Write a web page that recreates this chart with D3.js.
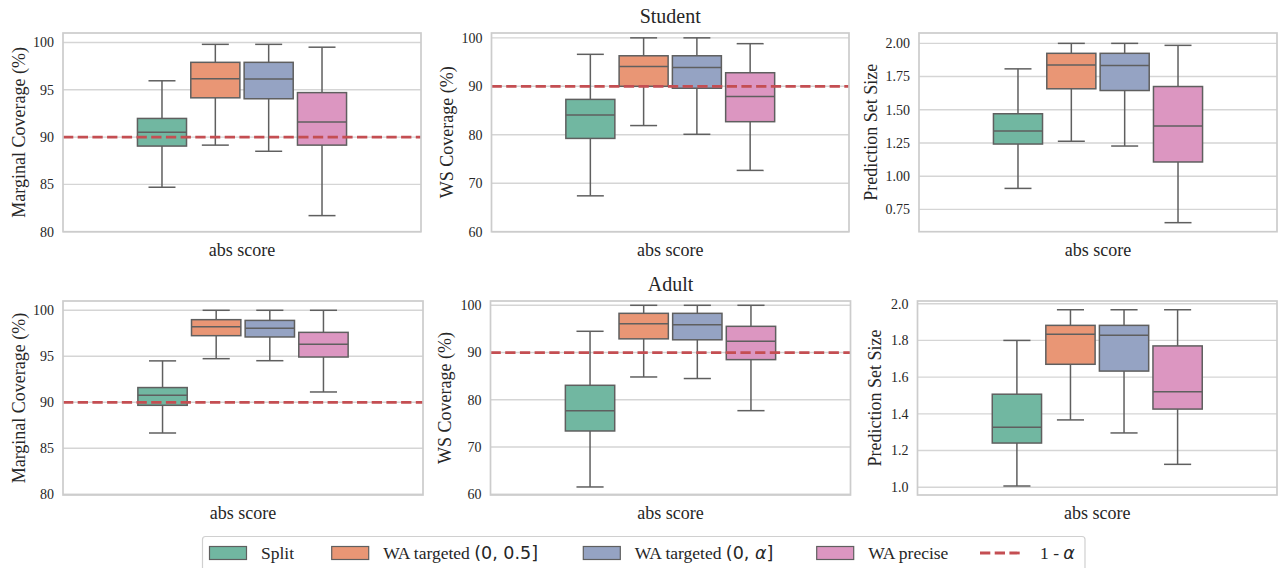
<!DOCTYPE html>
<html>
<head>
<meta charset="utf-8">
<script src="https://cdn.jsdelivr.net/npm/d3@7"></script>
<style>
  body { margin: 0; background: #fff; }
  svg { display: block; font-family: "Liberation Serif", "Times New Roman", serif; }
</style>
</head>
<body>
<svg id="chart" width="1278" height="568"></svg>
<script>
// methods shown in every panel (one box each)
const methods = ["Split", "WA targeted (0, 0.5]", "WA targeted (0, α]", "WA precise"];
const colors = ["#71b7a1", "#e99675", "#95a3c3", "#dc96c1"];
const xCategory = "abs score";
const target = 90; // 1 - alpha line, only on coverage panels

// box stats per method: [lower whisker, q1, median, q3, upper whisker]
const studentMarginal = [[84.7, 89.05, 90.5, 91.97, 95.95], [89.15, 94.15, 96.16, 97.9, 99.8], [88.5, 94.05, 96.15, 97.9, 99.8], [81.7, 89.15, 91.6, 94.7, 99.5]];
const studentWS = [[67.4, 79.25, 84.1, 87.3, 96.6], [81.9, 90.0, 94.1, 96.3, 100], [80.1, 89.6, 93.9, 96.3, 100], [72.65, 82.7, 87.9, 92.8, 98.8]];
const studentSize = [[0.908, 1.242, 1.34, 1.47, 1.808], [1.263, 1.658, 1.838, 1.925, 2.0], [1.227, 1.645, 1.833, 1.925, 2.0], [0.65, 1.107, 1.377, 1.675, 1.985]];
const adultMarginal = [[86.66, 89.67, 90.76, 91.6, 94.5], [94.74, 97.24, 98.22, 98.98, 100], [94.52, 97.1, 98.04, 98.9, 100], [91.12, 94.92, 96.3, 97.6, 100]];
const adultWS = [[61.55, 73.4, 77.7, 83.07, 94.5], [84.83, 92.9, 96.1, 98.3, 100], [84.5, 92.7, 95.9, 98.3, 100], [77.7, 88.5, 92.4, 95.55, 100]];
const adultSize = [[1.007, 1.241, 1.327, 1.507, 1.8], [1.367, 1.67, 1.833, 1.882, 1.967], [1.296, 1.633, 1.828, 1.882, 1.967], [1.125, 1.426, 1.521, 1.77, 1.967]];

// tick labels
const marginalTicks = [80, 85, 90, 95, 100];
const wsTicks = [60, 70, 80, 90, 100];
const studentSizeTicks = [0.75, 1.00, 1.25, 1.50, 1.75, 2.00];
const adultSizeTicks = [1.0, 1.2, 1.4, 1.6, 1.8, 2.0];

const rowTitles = ["Student", "Adult"];

const svg = d3.select("#chart");
const textColor = "#262626";
const gridColor = "#d5d5d5";
const lineColor = "#5f5f5f";
const red = "#c44e52";

const panels = [
  { stats: studentMarginal, ticks: marginalTicks, fmt: d3.format("d"), domain: [80, 101], x: [63, 421], y: [33, 231.7], label: "Marginal Coverage (%)", lx: 19, line: true },
  { stats: studentWS, ticks: wsTicks, fmt: d3.format("d"), domain: [60, 101], x: [491.5, 849], y: [33, 231.7], label: "WS Coverage (%)", lx: 446.5, line: true, title: rowTitles[0] },
  { stats: studentSize, ticks: studentSizeTicks, fmt: d3.format(".2f"), domain: [0.582, 2.078], x: [919, 1277], y: [33, 231.7], label: "Prediction Set Size", lx: 871, line: false },
  { stats: adultMarginal, ticks: marginalTicks, fmt: d3.format("d"), domain: [79.92, 101.01], x: [63, 423], y: [301, 495], label: "Marginal Coverage (%)", lx: 19, line: true },
  { stats: adultWS, ticks: wsTicks, fmt: d3.format("d"), domain: [59.85, 100.91], x: [490.5, 850.5], y: [301, 495], label: "WS Coverage (%)", lx: 445, line: true, title: rowTitles[1] },
  { stats: adultSize, ticks: adultSizeTicks, fmt: d3.format(".1f"), domain: [0.958, 2.0147], x: [917.5, 1277], y: [301, 495], label: "Prediction Set Size", lx: 875, line: false }
];

panels.forEach(function (p) {
  const w = p.x[1] - p.x[0];
  const cx = (p.x[0] + p.x[1]) / 2;
  const y = d3.scaleLinear().domain(p.domain).range([p.y[1], p.y[0]]);
  const xb = d3.scaleBand().domain(methods)
    .range([cx - 0.298 * w, cx + 0.298 * w])
    .paddingInner(0.08).paddingOuter(0.04);
  const bw = xb.bandwidth();
  const g = svg.append("g");

  // horizontal grid
  g.selectAll(".grid").data(p.ticks).enter().append("line")
    .attr("x1", p.x[0]).attr("x2", p.x[1])
    .attr("y1", d => y(d)).attr("y2", d => y(d))
    .attr("stroke", gridColor).attr("stroke-width", 1.4);

  // y tick labels
  g.selectAll(".tick").data(p.ticks).enter().append("text")
    .attr("x", p.x[0] - 9).attr("y", d => y(d)).attr("dy", "0.35em")
    .attr("text-anchor", "end").attr("font-size", 14).attr("fill", textColor)
    .text(p.fmt);

  // boxes
  const box = g.selectAll(".box").data(p.stats).enter().append("g");
  box.each(function (s, i) {
    const b = d3.select(this);
    const left = xb(methods[i]);
    const mid = left + bw / 2;
    const cap = bw * 0.275;
    b.append("line").attr("x1", mid).attr("x2", mid).attr("y1", y(s[3])).attr("y2", y(s[4]))
      .attr("stroke", lineColor).attr("stroke-width", 1.5);
    b.append("line").attr("x1", mid).attr("x2", mid).attr("y1", y(s[1])).attr("y2", y(s[0]))
      .attr("stroke", lineColor).attr("stroke-width", 1.5);
    b.append("line").attr("x1", mid - cap).attr("x2", mid + cap).attr("y1", y(s[4])).attr("y2", y(s[4]))
      .attr("stroke", lineColor).attr("stroke-width", 1.5);
    b.append("line").attr("x1", mid - cap).attr("x2", mid + cap).attr("y1", y(s[0])).attr("y2", y(s[0]))
      .attr("stroke", lineColor).attr("stroke-width", 1.5);
    b.append("rect").attr("x", left).attr("width", bw)
      .attr("y", y(s[3])).attr("height", y(s[1]) - y(s[3]))
      .attr("fill", colors[i]).attr("stroke", lineColor).attr("stroke-width", 1.5);
    b.append("line").attr("x1", left).attr("x2", left + bw).attr("y1", y(s[2])).attr("y2", y(s[2]))
      .attr("stroke", lineColor).attr("stroke-width", 1.5);
  });

  // 1 - alpha target line
  if (p.line) {
    g.append("line").attr("x1", p.x[0]).attr("x2", p.x[1])
      .attr("y1", y(target)).attr("y2", y(target))
      .attr("stroke", red).attr("stroke-width", 2.8).attr("stroke-dasharray", "10.3,4.4");
  }

  // spines
  g.append("rect").attr("x", p.x[0]).attr("y", p.y[0]).attr("width", w).attr("height", p.y[1] - p.y[0])
    .attr("fill", "none").attr("stroke", "#cccccc").attr("stroke-width", 1.7);

  // labels
  g.append("text").attr("x", cx).attr("y", p.y[1] + 24)
    .attr("text-anchor", "middle").attr("font-size", 18).attr("fill", textColor).text(xCategory);
  g.append("text").attr("transform", "translate(" + (p.lx + 6) + "," + ((p.y[0] + p.y[1]) / 2) + ") rotate(-90)")
    .attr("text-anchor", "middle").attr("font-size", 18).attr("fill", textColor).text(p.label);
  if (p.title) {
    g.append("text").attr("x", cx).attr("y", p.y[0] - 10.5)
      .attr("text-anchor", "middle").attr("font-size", 20).attr("fill", textColor).text(p.title);
  }
});

// legend
const legend = svg.append("g");
legend.append("rect").attr("x", 202.5).attr("y", 536.5).attr("width", 882.5).attr("height", 40).attr("rx", 3)
  .attr("fill", "#fff").attr("stroke", "#d0d0d0").attr("stroke-width", 1.2);

const legendX = [209.5, 331.7, 583.3, 816.7];
const mathFont = "DejaVu Sans";
const mathSize = 17.5;
methods.forEach(function (m, i) {
  legend.append("rect").attr("x", legendX[i]).attr("y", 546.5).attr("width", 37).attr("height", 13)
    .attr("fill", colors[i]).attr("stroke", lineColor).attr("stroke-width", 1.2);
  const t = legend.append("text").attr("x", legendX[i] + 51.5).attr("y", 558.5)
    .attr("font-size", 17.5).attr("fill", textColor);
  const k = m.indexOf("(");
  if (k < 0) {
    t.text(m);
  } else {
    t.append("tspan").text(m.slice(0, k));
    const math = m.slice(k);
    const a = math.indexOf("α");
    if (a < 0) {
      t.append("tspan").attr("font-family", mathFont).attr("font-size", mathSize).text(math);
    } else {
      t.append("tspan").attr("font-family", mathFont).attr("font-size", mathSize).text(math.slice(0, a));
      t.append("tspan").attr("font-family", mathFont).attr("font-size", mathSize).attr("font-style", "italic").text("α");
      t.append("tspan").attr("font-family", mathFont).attr("font-size", mathSize).text(math.slice(a + 1));
    }
  }
});
legend.append("line").attr("x1", 980).attr("x2", 1024).attr("y1", 553).attr("y2", 553)
  .attr("stroke", red).attr("stroke-width", 2.8).attr("stroke-dasharray", "10.3,4.4");
const lt = legend.append("text").attr("x", 1040).attr("y", 558.5).attr("font-size", 17.5).attr("fill", textColor);
lt.append("tspan").text("1 - ");
lt.append("tspan").attr("font-family", mathFont).attr("font-size", mathSize).attr("font-style", "italic").text("α");
</script>
</body>
</html>
